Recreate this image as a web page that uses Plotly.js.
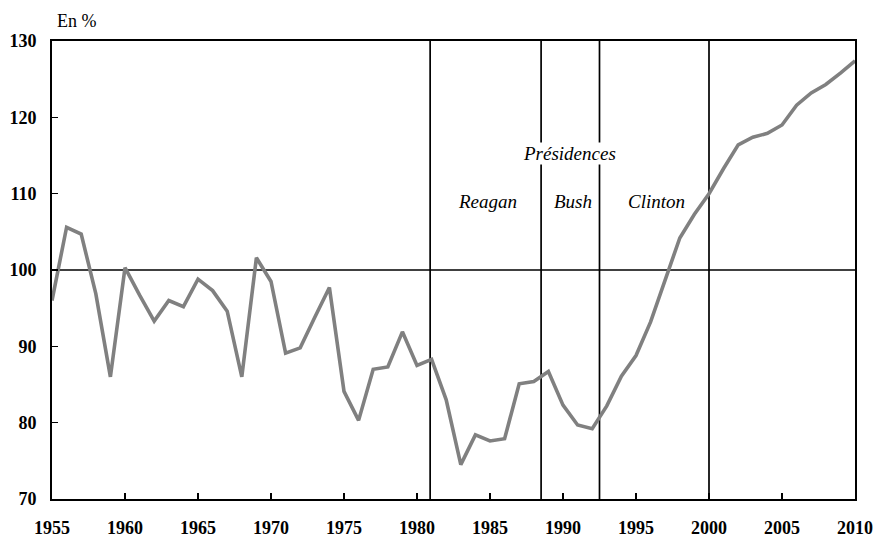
<!DOCTYPE html>
<html>
<head>
<meta charset="utf-8">
<script src="https://cdn.plot.ly/plotly-3.0.1.min.js"></script>
<style>html,body{margin:0;padding:0;background:#fff;}#chart{width:877px;height:540px;}</style>
</head>
<body>
<div id="chart"></div>
<script>
const years = [1955,1956,1957,1958,1959,1960,1961,1962,1963,1964,1965,1966,1967,1968,1969,1970,1971,1972,1973,1974,1975,1976,1977,1978,1979,1980,1981,1982,1983,1984,1985,1986,1987,1988,1989,1990,1991,1992,1993,1994,1995,1996,1997,1998,1999,2000,2001,2002,2003,2004,2005,2006,2007,2008,2009,2010];
const values = [96.0,105.6,104.7,96.9,86.0,100.3,96.7,93.3,96.0,95.2,98.8,97.3,94.6,86.0,101.6,98.5,89.1,89.8,93.8,97.7,84.1,80.3,87.0,87.3,91.9,87.5,88.3,83.0,74.5,78.4,77.6,77.9,85.1,85.4,86.7,82.3,79.7,79.2,82.2,86.1,88.8,93.2,98.7,104.2,107.3,110.0,113.3,116.4,117.4,117.9,119.0,121.6,123.2,124.3,125.8,127.4];
const xTicks = [1955,1960,1965,1970,1975,1980,1985,1990,1995,2000,2005,2010];
const yTicks = [70,80,90,100,110,120,130];
const presidencyStarts = [1980.9, 1988.5, 1992.5, 2000.0];
const presidents = ['Reagan','Bush','Clinton'];
const presidentX = [1984.8, 1990.7, 1996.4];
const referenceLevel = 100;

const serif = '"Liberation Serif", "DejaVu Serif", serif';

const shapes = presidencyStarts.map(x => ({
  type:'line', xref:'x', yref:'paper', x0:x, x1:x, y0:0, y1:1,
  line:{color:'#000', width:1.7}, layer:'below'
}));
shapes.push({type:'line', xref:'paper', yref:'y', x0:0, x1:1, y0:referenceLevel, y1:referenceLevel,
  line:{color:'#000', width:1.7}, layer:'below'});

const annotations = presidents.map((p,i) => ({
  x: presidentX[i], y: 109.0, xref:'x', yref:'y', text:'<i>'+p+'</i>', showarrow:false,
  font:{family:serif, size:19, color:'#000'}
}));
annotations.push({x:1990.45, y:115.2, xref:'x', yref:'y', text:'<i>Présidences</i>', showarrow:false,
  font:{family:serif, size:19, color:'#000'}, bgcolor:'#fff', borderpad:0});
annotations.push({x:0, y:1, xref:'paper', yref:'paper', xshift:3, yshift:20,
  text:'En %', showarrow:false, font:{family:serif, size:18, color:'#000'}, xanchor:'left', yanchor:'middle'});

const trace = {x: years, y: values, type:'scatter', mode:'lines',
  line:{color:'#808080', width:3.6}, hoverinfo:'skip'};

const layout = {
  width:877, height:540,
  margin:{l:52, r:22, t:41, b:41},
  paper_bgcolor:'#fff', plot_bgcolor:'#fff',
  showlegend:false,
  xaxis:{range:[1955,2010], tickvals:xTicks, ticktext:xTicks.map(String), ticks:'inside', ticklen:6,
    tickcolor:'#000', tickwidth:1.3, showgrid:false, zeroline:false, showline:true, linecolor:'#000', linewidth:2,
    mirror:true, ticklabelstandoff:11, tickfont:{family:serif, size:18, color:'#000', weight:'bold'}},
  yaxis:{range:[70,130], tickvals:yTicks, ticktext:yTicks.map(String), ticks:'inside', ticklen:6,
    tickcolor:'#000', tickwidth:1.3, showgrid:false, zeroline:false, showline:true, linecolor:'#000', linewidth:2,
    mirror:true, ticklabelstandoff:10, tickfont:{family:serif, size:18, color:'#000', weight:'bold'}},
  shapes: shapes,
  annotations: annotations
};

Plotly.newPlot('chart', [trace], layout, {staticPlot:true, displayModeBar:false});
</script>
</body>
</html>
